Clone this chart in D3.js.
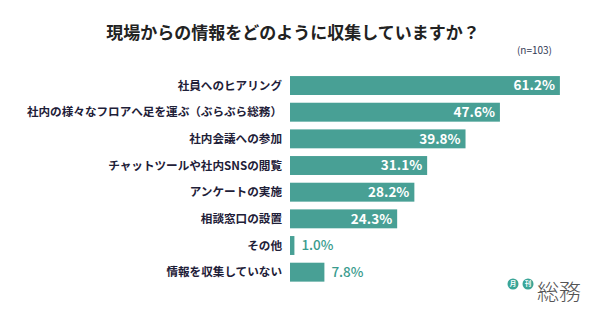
<!DOCTYPE html>
<html><head><meta charset="utf-8">
<script src="https://cdn.jsdelivr.net/npm/d3@7"></script>
<style>
html,body{margin:0;padding:0;background:#fff;}
svg{display:block;font-family:"Noto Sans CJK JP","Noto Sans",sans-serif;}
</style></head>
<body>
<svg id="chart" width="590" height="332"></svg>
<script>
const title = "現場からの情報をどのように収集していますか？";
const note = "(n=103)";
const categories = [
  "社員へのヒアリング",
  "社内の様々なフロアへ足を運ぶ（ぶらぶら総務）",
  "社内会議への参加",
  "チャットツールや社内SNSの閲覧",
  "アンケートの実施",
  "相談窓口の設置",
  "その他",
  "情報を収集していない"
];
const values = [61.2, 47.6, 39.8, 31.1, 28.2, 24.3, 1.0, 7.8];
const logoBadges = ["月", "刊"];
const logoText = "総務";

const barColor = "#48a095";
const outColor = "#3a9c8e";
const labelColor = "#1e2038";

const svg = d3.select("#chart");

const x = d3.scaleLinear().domain([0, 100]).range([290, 731]);
const y = d3.scaleBand().domain(categories).range([72.2, 285.5]).paddingInner(0.29).paddingOuter(0.145);

svg.append("text")
  .attr("x", 293).attr("y", 39)
  .attr("text-anchor", "middle")
  .attr("font-size", 17).attr("font-weight", 700)
  .attr("fill", "#222")
  .text(title);

svg.append("text")
  .attr("x", 552).attr("y", 54)
  .attr("text-anchor", "end")
  .attr("font-size", 10).attr("fill", "#333a55")
  .text(note);

const data = categories.map((c, i) => ({c, v: values[i]}));

svg.append("g").selectAll("rect").data(data).join("rect")
  .attr("x", x(0))
  .attr("y", d => y(d.c))
  .attr("width", d => x(d.v) - x(0))
  .attr("height", y.bandwidth())
  .attr("fill", barColor);

svg.append("g").selectAll("text").data(data).join("text")
  .attr("x", x(0) - 8)
  .attr("y", d => y(d.c) + y.bandwidth() / 2)
  .attr("dy", "0.35em")
  .attr("text-anchor", "end")
  .attr("font-size", 11.6).attr("font-weight", 700)
  .attr("fill", labelColor)
  .text(d => d.c);

svg.append("g").selectAll("text").data(data).join("text")
  .attr("x", d => d.v > 15 ? x(d.v) - 5 : x(d.v) + 7)
  .attr("y", d => y(d.c) + y.bandwidth() / 2)
  .attr("dy", "0.36em")
  .attr("text-anchor", d => d.v > 15 ? "end" : "start")
  .attr("font-size", 13.5)
  .attr("font-weight", d => d.v > 15 ? 700 : 500)
  .attr("fill", d => d.v > 15 ? "#fff" : outColor)
  .text(d => d.v.toFixed(1) + "%");

// logo
const logo = svg.append("g");
logoBadges.forEach((t, i) => {
  const cx = 513 + i * 15;
  logo.append("circle").attr("cx", cx).attr("cy", 284).attr("r", 5.5).attr("fill", "#3aa597");
  logo.append("text").attr("x", cx).attr("y", 284).attr("dy", "0.35em")
    .attr("text-anchor", "middle").attr("font-size", 6.5).attr("font-weight", 700)
    .attr("fill", "#fff").text(t);
});
logo.append("text").attr("x", 537).attr("y", 300)
  .attr("font-size", 22).attr("font-weight", 300)
  .attr("fill", "#555").text(logoText);
</script>
</body></html>
